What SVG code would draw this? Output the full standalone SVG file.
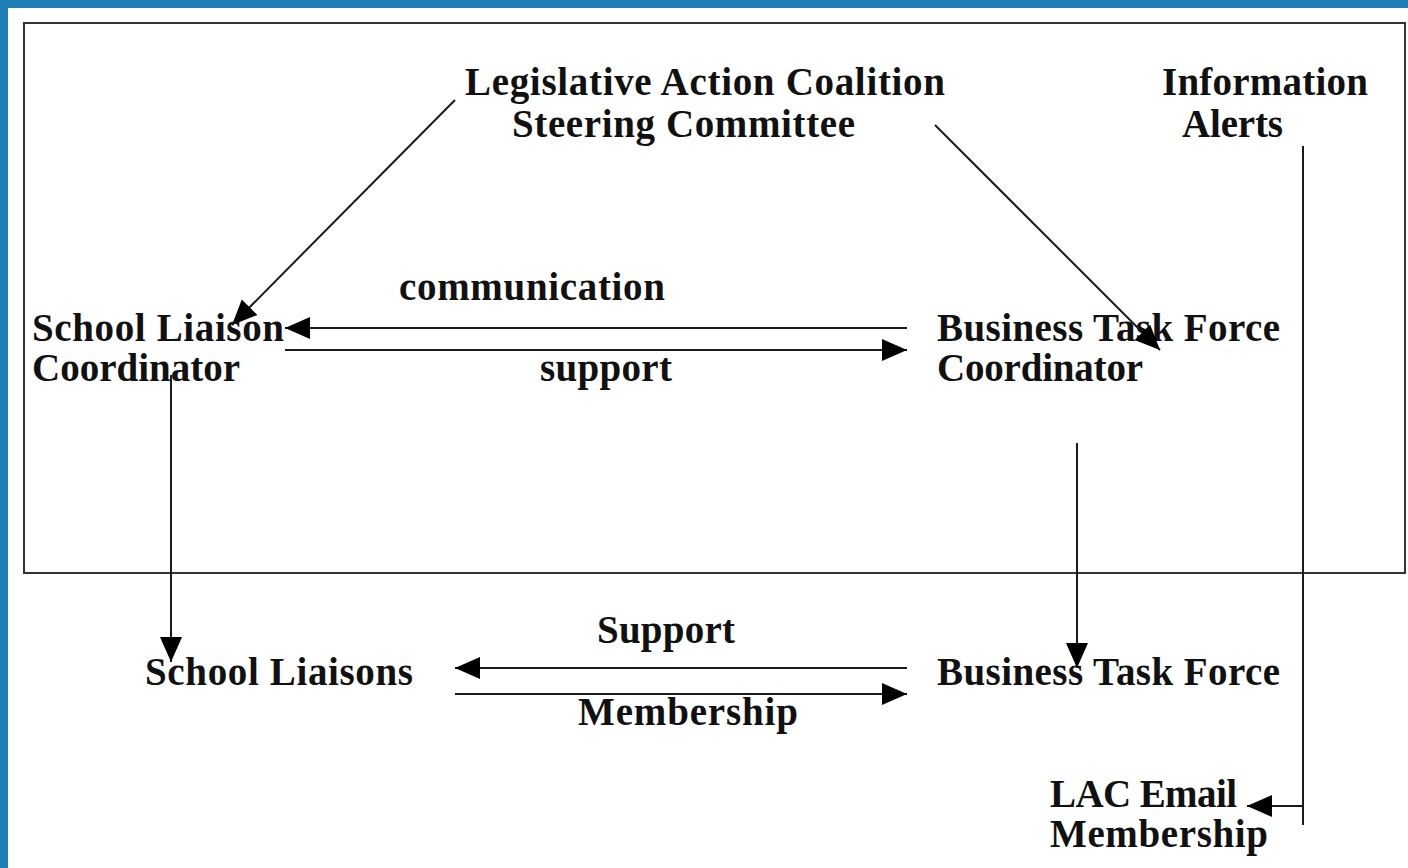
<svg xmlns="http://www.w3.org/2000/svg" width="1408" height="868" viewBox="0 0 1408 868">
<style>
text{font-family:"Liberation Serif","DejaVu Serif",serif;font-size:39px;font-weight:bold;fill:#111}
.ln{stroke:#1a1a1a;stroke-width:2;fill:none}
</style>
<defs>
<marker id="ah" markerUnits="userSpaceOnUse" markerWidth="28" markerHeight="24" refX="25" refY="11" orient="auto">
<path d="M0,0 L25,11 L0,22 Z" fill="#000"/>
</marker>
</defs>
<rect x="0" y="0" width="1408" height="868" fill="#fff"/>
<rect x="0" y="0" width="1408" height="8" fill="#1f7fb6"/>
<rect x="0" y="0" width="8" height="868" fill="#1f7fb6"/>
<rect x="24" y="23" width="1381" height="550" fill="none" stroke="#333" stroke-width="2"/>
<g id="lac"><text x="465" y="95" textLength="480">Legislative Action Coalition</text><text x="512" y="137" textLength="343">Steering Committee</text></g>
<g id="alerts"><text x="1162" y="95" textLength="206">Information</text><text x="1182" y="137" textLength="101">Alerts</text></g>
<g id="slc"><text x="32" y="341" textLength="252">School Liaison</text><text x="32" y="381" textLength="208">Coordinator</text></g>
<g id="btfc"><text x="937" y="341" textLength="343">Business Task Force</text><text x="937" y="381" textLength="206">Coordinator</text></g>
<g id="sl"><text x="145" y="685" textLength="268">School Liaisons</text></g>
<g id="btf"><text x="937" y="685" textLength="343">Business Task Force</text></g>
<g id="email"><text x="1050" y="807" textLength="187">LAC Email</text><text x="1050" y="847" textLength="218">Membership</text></g>
<g id="connectors">
<line class="ln" x1="455" y1="100" x2="232" y2="325" marker-end="url(#ah)"/>
<line class="ln" x1="935" y1="125" x2="1160" y2="350" marker-end="url(#ah)"/>
<line class="ln" x1="907" y1="328" x2="285" y2="328" marker-end="url(#ah)"/>
<line class="ln" x1="285" y1="350" x2="907" y2="350" marker-end="url(#ah)"/>
<line class="ln" x1="171" y1="375" x2="171" y2="662" marker-end="url(#ah)"/>
<line class="ln" x1="1077" y1="443" x2="1077" y2="668" marker-end="url(#ah)"/>
<line class="ln" x1="907" y1="668" x2="455" y2="668" marker-end="url(#ah)"/>
<line class="ln" x1="455" y1="694" x2="907" y2="694" marker-end="url(#ah)"/>
<line class="ln" x1="1303" y1="146" x2="1303" y2="825"/>
<line class="ln" x1="1303" y1="806" x2="1247" y2="806" marker-end="url(#ah)"/>
<text x="399" y="300" textLength="266">communication</text>
<text x="540" y="381" textLength="132">support</text>
<text x="597" y="643" textLength="138">Support</text>
<text x="578" y="725" textLength="220">Membership</text>
</g>
</svg>
